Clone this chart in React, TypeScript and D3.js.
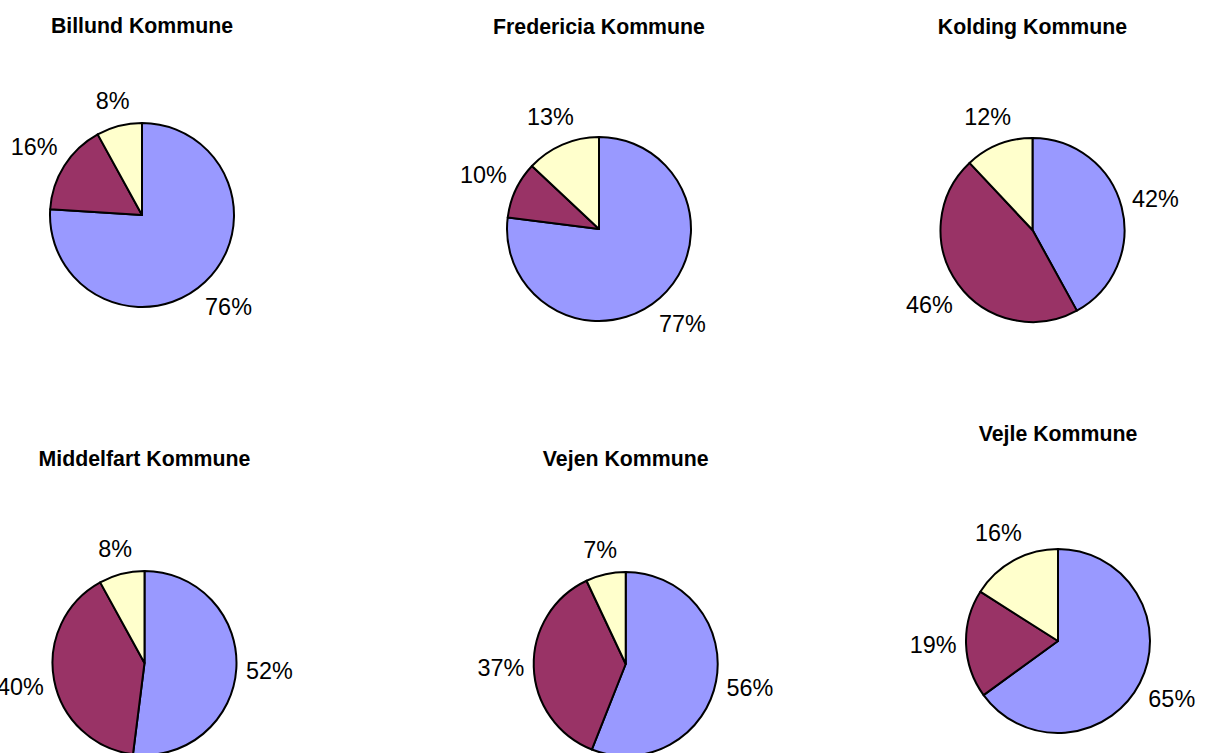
import React from "react";
import * as d3 from "d3";

const municipalities = [
  "Billund Kommune",
  "Fredericia Kommune",
  "Kolding Kommune",
  "Middelfart Kommune",
  "Vejen Kommune",
  "Vejle Kommune",
];
const categoryColors = ["#9999FF", "#993366", "#FFFFCC"];
const billund = [76, 16, 8];
const fredericia = [77, 10, 13];
const kolding = [42, 46, 12];
const middelfart = [52, 40, 8];
const vejen = [56, 37, 7];
const vejle = [65, 19, 16];
const seriesValues = [billund, fredericia, kolding, middelfart, vejen, vejle];

// layout (positions of each pie and its title)
const layout = [
  { cx: 142, cy: 215, ty: 26 },
  { cx: 599, cy: 229, ty: 27 },
  { cx: 1032.5, cy: 230, ty: 27 },
  { cx: 144.5, cy: 663, ty: 459 },
  { cx: 625.7, cy: 664, ty: 459 },
  { cx: 1058, cy: 641, ty: 434 },
];
const R = 92;
const LABEL_FS = 23.4;
const TITLE_FS = 21.3;

function textWidth(s: string, fs: number) {
  let w = 0;
  for (const ch of s) w += ch === "%" ? 0.889 : 0.556;
  return w * fs;
}

function Pie({ idx }: { idx: number }) {
  const values = seriesValues[idx];
  const { cx, cy, ty } = layout[idx];
  const pie = d3.pie<number>().sort(null).value((d) => d)(values);
  const arc = d3.arc<d3.PieArcDatum<number>>().innerRadius(0).outerRadius(R);
  const total = d3.sum(values);
  return (
    <g>
      <text
        x={cx}
        y={ty}
        dy="0.35em"
        textAnchor="middle"
        fontFamily="Liberation Sans, Arial, sans-serif"
        fontWeight="bold"
        fontSize={TITLE_FS}
        fill="#000"
      >
        {municipalities[idx]}
      </text>
      <g transform={`translate(${cx},${cy})`}>
        {pie.map((p, i) => (
          <path
            key={i}
            d={arc(p) || ""}
            fill={categoryColors[i]}
            stroke="#000"
            strokeWidth={2}
            strokeLinejoin="round"
          />
        ))}
        {pie.map((p, i) => {
          const mid = (p.startAngle + p.endAngle) / 2;
          const ux = Math.sin(mid);
          const uy = -Math.cos(mid);
          const label = `${Math.round((p.value / total) * 100)}%`;
          const w = textWidth(label, LABEL_FS);
          const h = LABEL_FS * 1.1;
          const proj = Math.abs(ux) * (w / 2) + Math.abs(uy) * (h / 2);
          const d = R + 9 + proj;
          return (
            <text
              key={"l" + i}
              x={ux * d}
              y={uy * d}
              dy="0.35em"
              textAnchor="middle"
              fontFamily="Liberation Sans, Arial, sans-serif"
              fontSize={LABEL_FS}
              fill="#000"
            >
              {label}
            </text>
          );
        })}
      </g>
    </g>
  );
}

export default function App() {
  return (
    <svg
      width={1205}
      height={753}
      style={{ position: "absolute", left: 0, top: 0, background: "#fff" }}
    >
      <rect x={0} y={0} width={1205} height={753} fill="#fff" />
      {municipalities.map((_, i) => (
        <Pie key={i} idx={i} />
      ))}
    </svg>
  );
}
